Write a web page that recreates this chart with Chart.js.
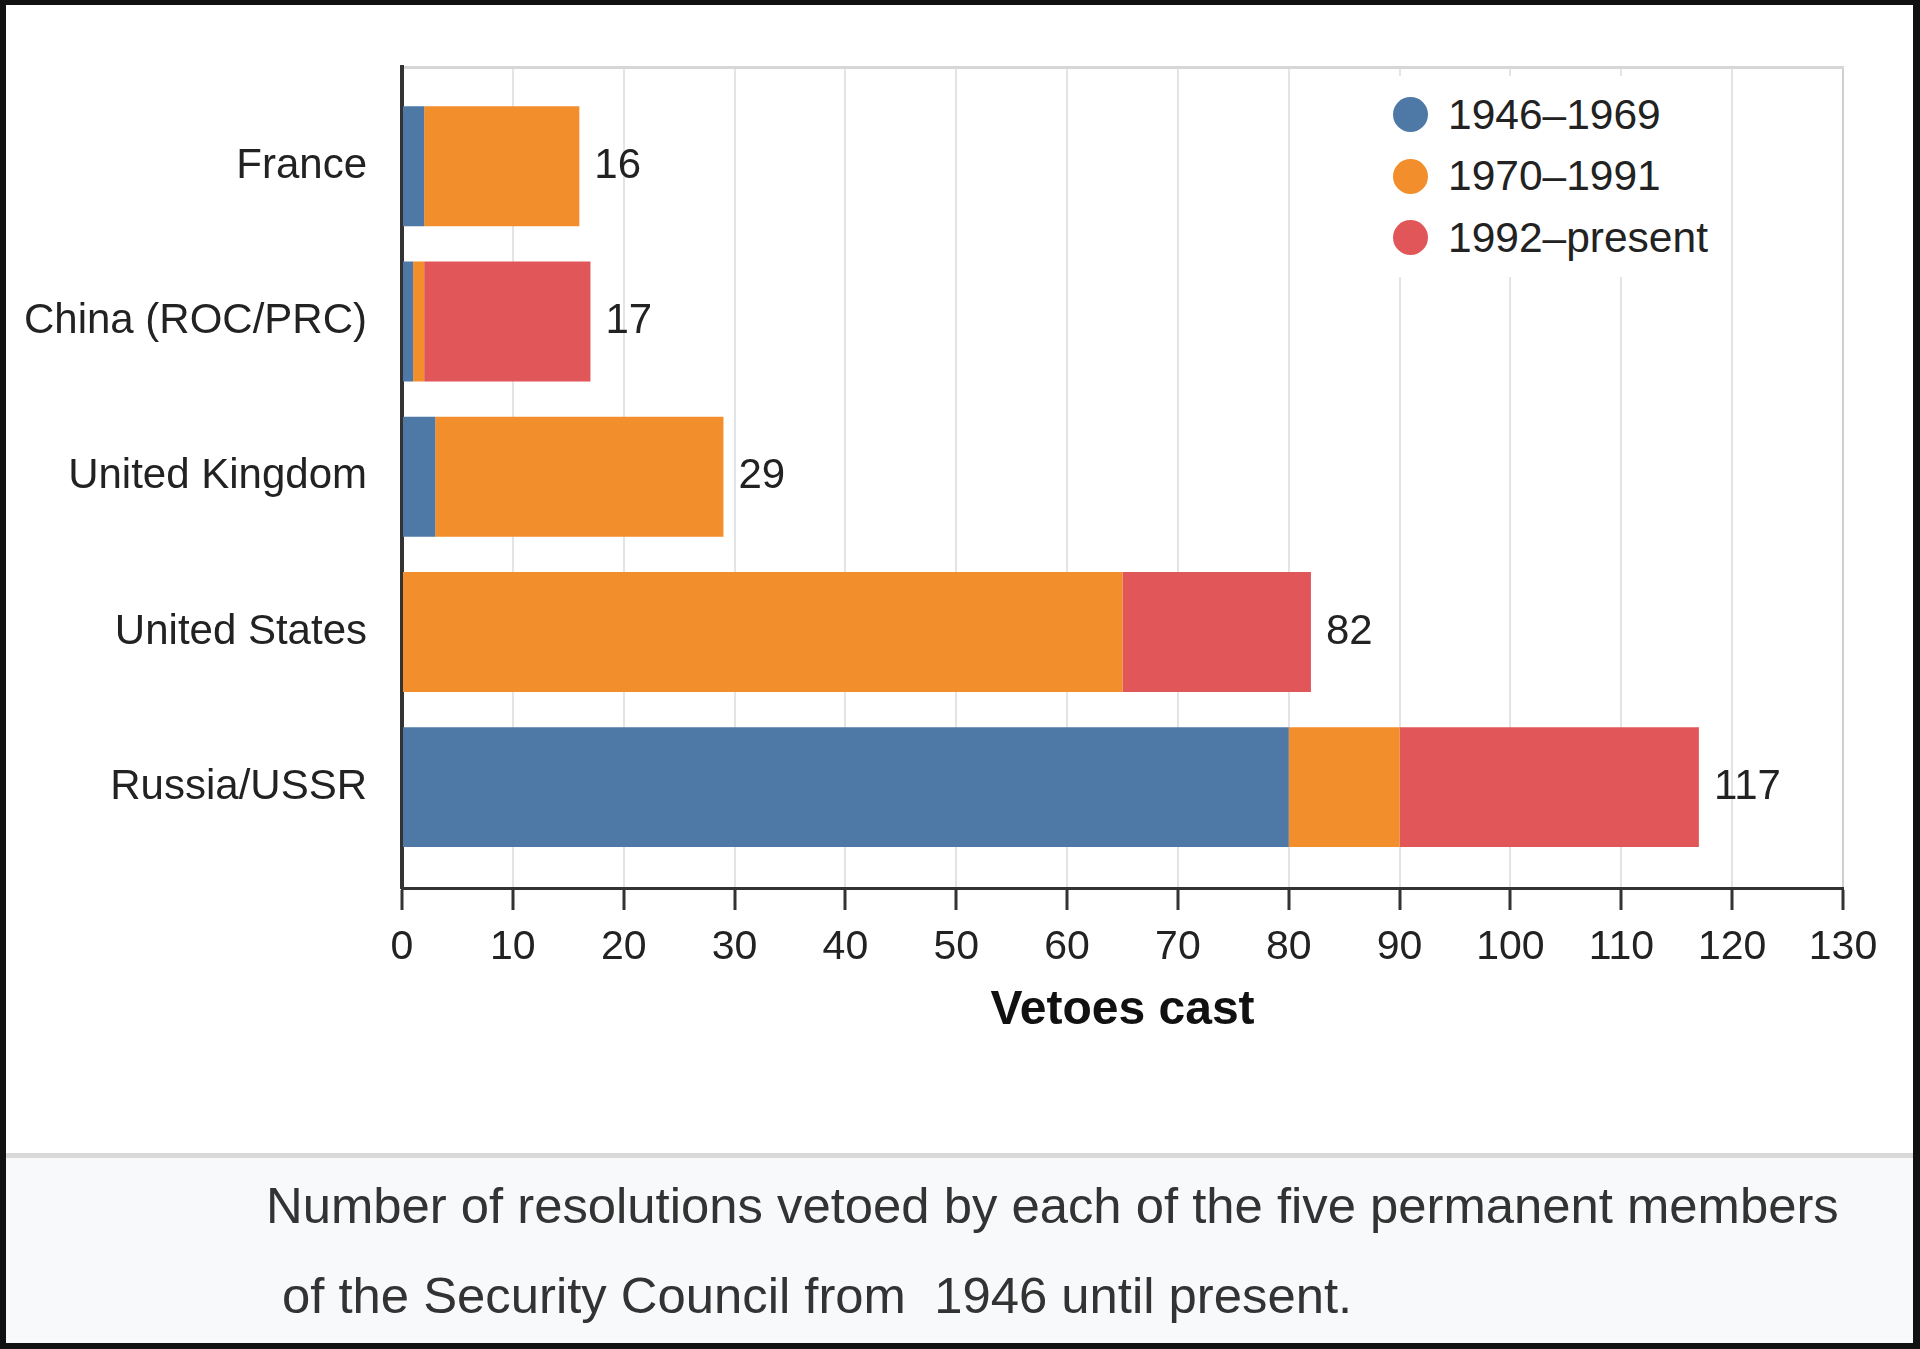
<!DOCTYPE html>
<html>
<head>
<meta charset="utf-8">
<script src="https://cdn.jsdelivr.net/npm/chart.js@4.4.0/dist/chart.umd.min.js"></script>
<style>
html,body{margin:0;padding:0;background:#fff;}
#page{position:relative;width:1920px;height:1349px;overflow:hidden;background:#fff;font-family:'Liberation Sans',Arial,sans-serif;}
#chartWrap{position:absolute;left:0;top:0;width:1920px;height:1150px;}
#sep{position:absolute;left:0;top:1153px;width:1920px;height:5px;background:#d9d9d9;}
#capArea{position:absolute;left:0;top:1158px;width:1920px;height:191px;background:#f8f9fa;}
.cap{position:absolute;font-size:50.8px;color:#333;white-space:pre;line-height:60px;}
#frame{position:absolute;left:0;top:0;width:1920px;height:1349px;box-sizing:border-box;border-style:solid;border-color:#111;border-width:5px 7px 6px 6px;pointer-events:none;}
#legend{position:absolute;left:1383px;top:76px;width:335px;background:#fff;padding:8px 0;}
.li{display:flex;align-items:center;height:61.5px;}
.dot{width:35px;height:35px;border-radius:50%;margin-left:10px;margin-right:20px;flex:none;}
.lt{font-size:42.5px;color:#222;white-space:nowrap;}
</style>
</head>
<body>
<div id="page">
  <div id="chartWrap"><canvas id="c"></canvas></div>
  <div id="legend"></div>
  <div id="sep"></div>
  <div id="capArea"></div>
  <div class="cap" style="left:266px;top:1176px;">Number of resolutions vetoed by each of the five permanent members</div>
  <div class="cap" style="left:282px;top:1266px;">of the Security Council from  1946 until present.</div>
  <div id="frame"></div>
</div>
<script>
// ---- data ----
const categories = ['France', 'China (ROC/PRC)', 'United Kingdom', 'United States', 'Russia/USSR'];
const seriesLabels = ['1946\u20131969', '1970\u20131991', '1992\u2013present'];
const seriesColors = ['#4e79a7', '#f28e2b', '#e15759'];
const vetoes1946to1969 = [2, 1, 3, 0, 80];
const vetoes1970to1991 = [14, 1, 26, 65, 10];
const vetoes1992toPresent = [0, 15, 0, 17, 27];
const xTickMin = 0;
const xTickMax = 130;
const xTickStep = 10;
const axisTitle = 'Vetoes cast';

const seriesValues = [vetoes1946to1969, vetoes1970to1991, vetoes1992toPresent];
const totals = categories.map((c, i) => seriesValues.reduce((s, arr) => s + arr[i], 0));

const FONT = "'Liberation Sans', Arial, sans-serif";
Chart.defaults.font.family = FONT;

// HTML legend built from series arrays
const legendEl = document.getElementById('legend');
seriesLabels.forEach((lab, i) => {
  const row = document.createElement('div');
  row.className = 'li';
  const dot = document.createElement('span');
  dot.className = 'dot';
  dot.style.background = seriesColors[i];
  const t = document.createElement('span');
  t.className = 'lt';
  t.textContent = lab;
  row.appendChild(dot); row.appendChild(t);
  legendEl.appendChild(row);
});

const totalsPlugin = {
  id: 'totals',
  afterDatasetsDraw(chart) {
    const { ctx } = chart;
    const x = chart.scales.x, y = chart.scales.y;
    ctx.save();
    ctx.font = '42px ' + FONT;
    ctx.fillStyle = '#222';
    ctx.textBaseline = 'middle';
    ctx.textAlign = 'left';
    categories.forEach((c, i) => {
      ctx.fillText(String(totals[i]), x.getPixelForValue(totals[i]) + 15, y.getPixelForValue(i));
    });
    ctx.restore();
  }
};

const datasets = seriesLabels.map((lab, s) => ({
  label: lab,
  data: seriesValues[s].map((v, i) => ({ x: v, y: i })),
  backgroundColor: seriesColors[s],
  borderWidth: 0,
  xAxisID: 'x',
  yAxisID: 'y',
  barPercentage: 0.773,
  categoryPercentage: 1.0
}));

new Chart(document.getElementById('c'), {
  type: 'bar',
  data: { datasets },
  plugins: [totalsPlugin],
  options: {
    indexAxis: 'y',
    responsive: true,
    maintainAspectRatio: false,
    animation: false,
    layout: { padding: { left: 0, top: 67, right: 77, bottom: 110 } },
    plugins: { legend: { display: false }, tooltip: { enabled: false } },
    scales: {
      x: {
        type: 'linear', position: 'bottom', stacked: true,
        min: xTickMin, max: xTickMax,
        ticks: { stepSize: xTickStep, font: { size: 41 }, color: '#222', padding: 13, maxRotation: 0, autoSkip: false },
        grid: {
          color: (ctx) => (ctx.tick && ctx.tick.value === xTickMax) ? '#cfcfcf' : '#e4e4e4',
          lineWidth: 2, drawTicks: true, tickLength: 22, tickColor: '#333', tickWidth: 3
        },
        border: { display: true, color: '#333', width: 3 },
        title: { display: true, text: axisTitle, font: { size: 48, weight: 'bold' }, color: '#111', padding: { top: 0, bottom: 0 } },
        afterFit(s) { s.height = 152; }
      },
      xTop: {
        type: 'linear', axis: 'x', position: 'top',
        min: xTickMin, max: xTickMax,
        ticks: { display: false },
        grid: { display: false, drawTicks: false },
        border: { display: true, color: '#d6d6d6', width: 3 }
      },
      y: {
        type: 'linear', stacked: true, reverse: true,
        min: -0.64, max: 4.65, offset: false,
        ticks: {
          stepSize: 1, includeBounds: false, autoSkip: false,
          callback: (v) => (categories[v] !== undefined ? categories[v] : ''),
          font: { size: 42 }, color: '#222', padding: 35
        },
        grid: { display: false, drawTicks: false, offset: false },
        border: { display: true, color: '#333', width: 4 },
        afterFit(s) { s.width = 402; }
      }
    }
  }
});
</script>
</body>
</html>
